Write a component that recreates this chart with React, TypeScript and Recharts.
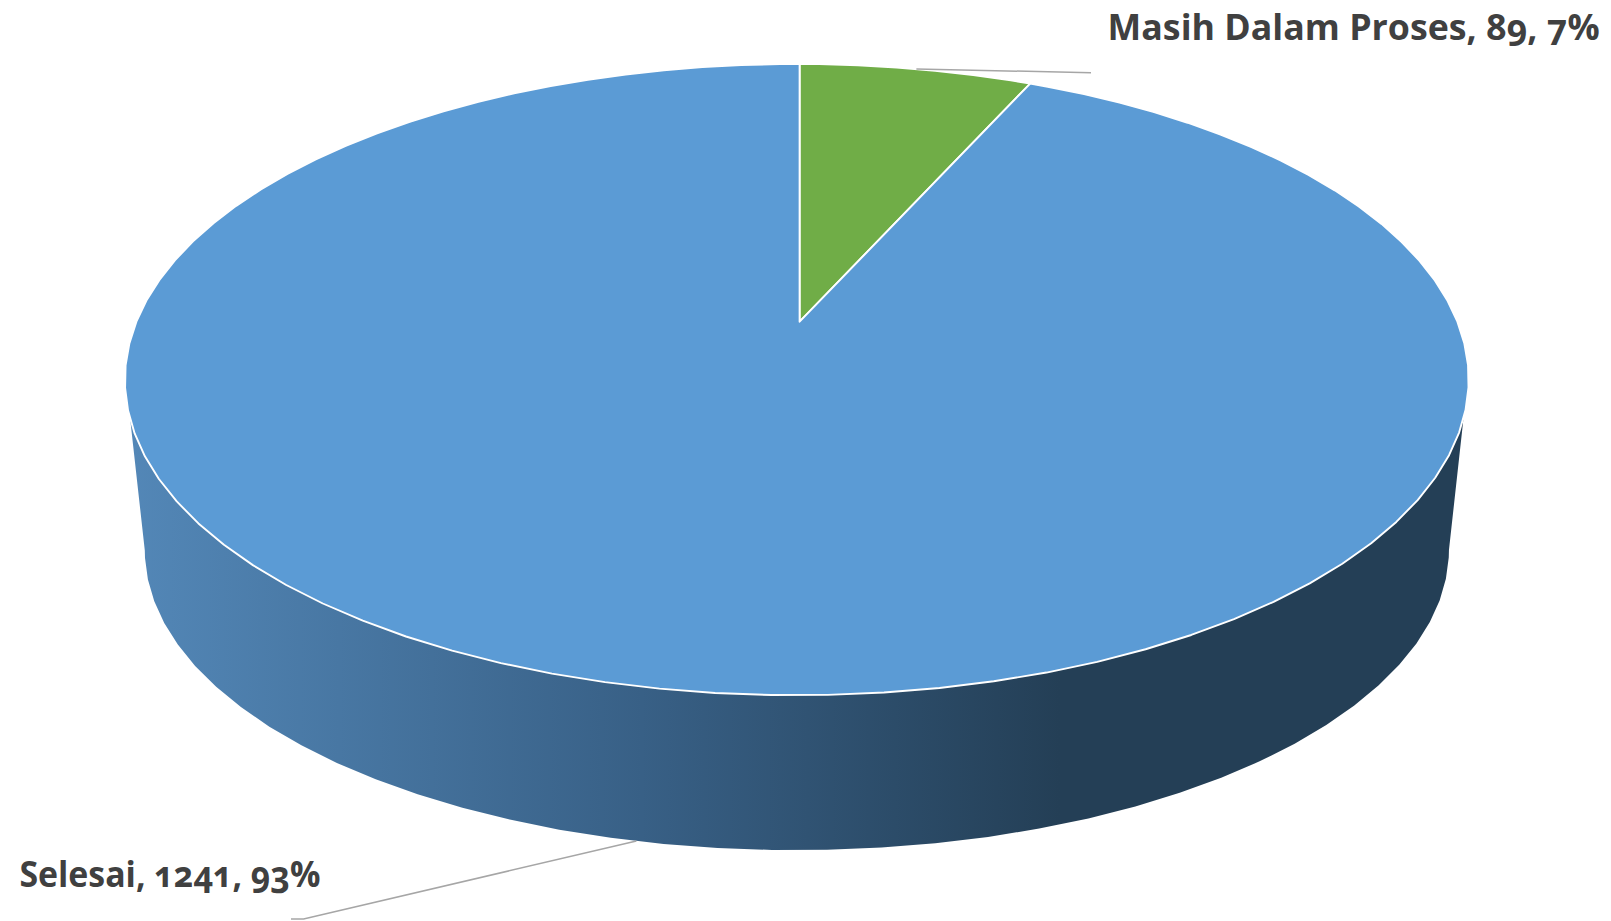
import React from 'react';
import { PieChart, Pie, Cell } from 'recharts';

const categories = ['Masih Dalam Proses', 'Selesai'];
const seriesValues = [89, 1241];
const sliceColors = ['#70AD47', '#5B9BD5'];
const wallStops: [string, string][] = [
  ['0%', '#5387b7'],
  ['55%', '#386086'],
  ['100%', '#243f56'],
];

const tableData = categories.map((name, i) => ({ name, value: seriesValues[i] }));

const W = 1611;
const H = 921;
const APEX_X = 799.6;
const APEX_Y = 321.7;
const PERSP_K = 0.1835;
const PERSP_M = 0.0041;
const TOP = { A: 660.5, B: 305, Y: APEX_Y };
const LOW = { A: 641, B: 290, Y: 495 };
const STEP = 4;
const STEP_OFFSET = 2;

type Plane = { A: number; B: number; Y: number };

const proj = (deg: number, p: Plane): [number, number] => {
  const r = (deg * Math.PI) / 180;
  const u = Math.sin(r);
  const t = Math.cos(r);
  const w = 1 + PERSP_K * t + PERSP_M * u;
  return [APEX_X + (p.A * u) / w, p.Y - (p.B * t) / w];
};

const arc = (a: number, b: number, p: Plane): [number, number][] => {
  const pts: [number, number][] = [proj(a, p)];
  for (let d = Math.ceil((a - STEP_OFFSET) / STEP) * STEP + STEP_OFFSET; d < b; d += STEP) {
    if (d > a) pts.push(proj(d, p));
  }
  pts.push(proj(b, p));
  return pts;
};

const toPath = (pts: [number, number][]) =>
  'M' + pts.map(([x, y]) => `${x.toFixed(2)} ${y.toFixed(2)}`).join('L') + 'Z';

// recharts angles run from 90 clockwise to -270; convert to degrees clockwise from the top
const clockwise = (a: number) => 90 - a;

const TopSector = (props: any) => {
  const a = clockwise(props.startAngle);
  const b = clockwise(props.endAngle);
  const pts: [number, number][] = [[APEX_X, APEX_Y], ...arc(a, b, TOP)];
  return <path d={toPath(pts)} fill={props.fill} stroke="#fff" strokeWidth={1.9} strokeLinejoin="round" />;
};

const WallSector = (props: any) => {
  const a = clockwise(props.startAngle);
  const b = clockwise(props.endAngle);
  if (a > 180 || b < 180) return <g />;
  const upper = arc(107.6, 252.4, TOP);
  const lower = arc(100.6, 259.4, LOW).reverse();
  return <path d={toPath([...upper, ...lower])} fill="url(#wallGradient)" stroke="none" />;
};

const labelLayout = [
  { textX: 1107.6, textY: 39.5, len: 492, line: (p: [number, number]) => [p, [1091, 72.7]] },
  { textX: 19.4, textY: 886.5, len: 301, line: (p: [number, number]) => [p, [303.6, 919], [291, 919]] },
];

const SliceLabel = (props: any) => {
  const { index, midAngle, name, value, percent } = props;
  const layout = labelLayout[index];
  const deg = 90 - midAngle;
  const start = index === 0 ? proj(deg, TOP) : proj(deg, LOW);
  const pts = layout.line(start) as number[][];
  return (
    <g>
      <polyline
        points={pts.map((q) => q.join(',')).join(' ')}
        fill="none"
        stroke="#A6A6A6"
        strokeWidth={1.5}
      />
      <text
        x={layout.textX}
        y={layout.textY}
        textLength={layout.len}
        lengthAdjust="spacingAndGlyphs"
        fill="#404040"
        style={{
          fontFamily: '"Open Sans", sans-serif',
          fontWeight: 700,
          fontSize: 36,
          fontFeatureSettings: '"onum"',
        }}
      >
        {`${name}, ${value}, ${Math.round(percent * 100)}%`}
      </text>
    </g>
  );
};

export default function App() {
  return (
    <div style={{ position: 'absolute', left: 0, top: 0, width: W, height: H, background: '#fff' }}>
      <PieChart width={W} height={H} margin={{ top: 0, right: 0, bottom: 0, left: 0 }}>
        <defs>
          <linearGradient id="wallGradient" gradientUnits="userSpaceOnUse" x1={130} y1={0} x2={1060} y2={0}>
            {wallStops.map(([offset, color]) => (
              <stop key={offset} offset={offset} stopColor={color} />
            ))}
          </linearGradient>
        </defs>
        <Pie
          data={tableData}
          dataKey="value"
          nameKey="name"
          cx={APEX_X}
          cy={APEX_Y}
          outerRadius={300}
          startAngle={90}
          endAngle={-270}
          paddingAngle={0}
          isAnimationActive={false}
          shape={WallSector}
          label={false}
          labelLine={false}
        />
        <Pie
          data={tableData}
          dataKey="value"
          nameKey="name"
          cx={APEX_X}
          cy={APEX_Y}
          outerRadius={300}
          startAngle={90}
          endAngle={-270}
          paddingAngle={0}
          isAnimationActive={false}
          shape={TopSector}
          label={SliceLabel}
          labelLine={false}
        >
          {tableData.map((d, i) => (
            <Cell key={d.name} fill={sliceColors[i]} />
          ))}
        </Pie>
      </PieChart>
    </div>
  );
}
